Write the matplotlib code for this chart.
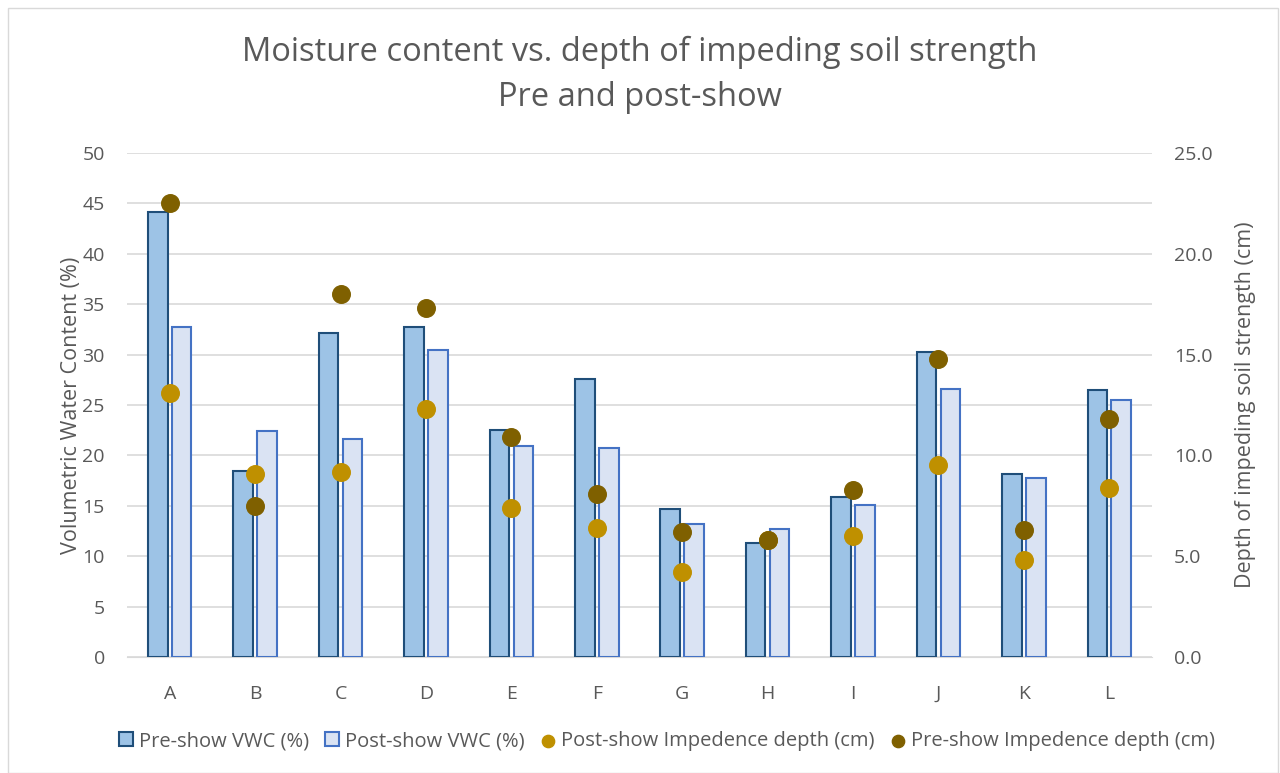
import numpy as np
import matplotlib.pyplot as plt
from matplotlib.patches import Rectangle

plt.rcParams['font.family'] = ['Open Sans', 'DejaVu Sans']

# sites and values
sites = ['A', 'B', 'C', 'D', 'E', 'F', 'G', 'H', 'I', 'J', 'K', 'L']
pre_vwc = [44.1, 18.5, 32.1, 32.7, 22.5, 27.6, 14.7, 11.3, 15.9, 30.3, 18.2, 26.5]
post_vwc = [32.7, 22.4, 21.6, 30.5, 20.9, 20.7, 13.2, 12.7, 15.1, 26.6, 17.8, 25.5]
post_depth = [13.1, 9.1, 9.2, 12.3, 7.4, 6.4, 4.2, 5.8, 6.0, 9.5, 4.8, 8.4]
pre_depth = [22.5, 7.5, 18.0, 17.3, 10.9, 8.1, 6.2, 5.8, 8.3, 14.8, 6.3, 11.8]

grey = '#595959'
x = np.arange(len(sites))
w = 0.23

fig = plt.figure(figsize=(12.8, 7.73), dpi=100)
ax = fig.add_axes([127 / 1280, 1 - 657 / 773, 1025 / 1280, 504 / 773])
ax2 = ax.twinx()

ax.bar(x - w / 2 - 0.025, pre_vwc, w, color='#9dc3e6', edgecolor='#1f4e79',
       linewidth=1.5, label='Pre-show VWC (%)', zorder=3)
ax.bar(x + w / 2 + 0.025, post_vwc, w, color='#dae3f3', edgecolor='#4472c4',
       linewidth=1.5, label='Post-show VWC (%)', zorder=3)
ax2.scatter(x, post_depth, s=160, color='#bf9000', label='Post-show Impedence depth (cm)', zorder=4)
ax2.scatter(x, pre_depth, s=160, color='#7f6000', label='Pre-show Impedence depth (cm)', zorder=5)

ax.set_xlim(-0.5, len(sites) - 0.5)
ax.set_ylim(0, 50)
ax.set_yticks(range(0, 51, 5))
ax2.set_ylim(0, 25)
ax2.set_yticks(np.arange(0, 25.1, 2.5))
ax2.set_yticklabels([f'{v:.1f}' if v % 5 == 0 else '' for v in np.arange(0, 25.1, 2.5)])
ax.set_xticks(x)
ax.set_xticklabels(sites)

ax.grid(axis='y', color='#d9d9d9', linewidth=1.2, zorder=0)
for a in (ax, ax2):
    for s in a.spines.values():
        s.set_visible(False)
    a.tick_params(length=0, colors=grey, labelsize=14)
ax.spines['bottom'].set_visible(True)
ax.spines['bottom'].set_color('#d9d9d9')
ax.tick_params(axis='x', pad=20)
ax.tick_params(axis='y', pad=16)
ax2.tick_params(axis='y', pad=16)

ax.set_ylabel('Volumetric Water Content (%)', color=grey, fontsize=15.5, labelpad=0)
ax2.set_ylabel('Depth of impeding soil strength (cm)', color=grey, fontsize=15.5, labelpad=16)

fig.text(0.5, 1 - 52 / 773, 'Moisture content vs. depth of impeding soil strength',
         ha='center', va='center', fontsize=23.5, color=grey)
fig.text(0.5, 1 - 97 / 773, 'Pre and post-show', ha='center', va='center',
         fontsize=23.5, color=grey)

h1, l1 = ax.get_legend_handles_labels()
h2, l2 = ax2.get_legend_handles_labels()
fig.legend(h1 + h2, l1 + l2, loc='center', bbox_to_anchor=(667 / 1280, 1 - 741 / 773),
           ncol=4, frameon=False, fontsize=14.5, labelcolor=grey,
           handlelength=0.7, handletextpad=0.3, columnspacing=0.8,
           markerscale=0.7)

fig.patches.append(Rectangle((8 / 1280, 0), 1270 / 1280, 1 - 8 / 773,
                             transform=fig.transFigure, fill=False,
                             edgecolor='#d9d9d9', linewidth=1))

fig.savefig('out.png', dpi=100)
